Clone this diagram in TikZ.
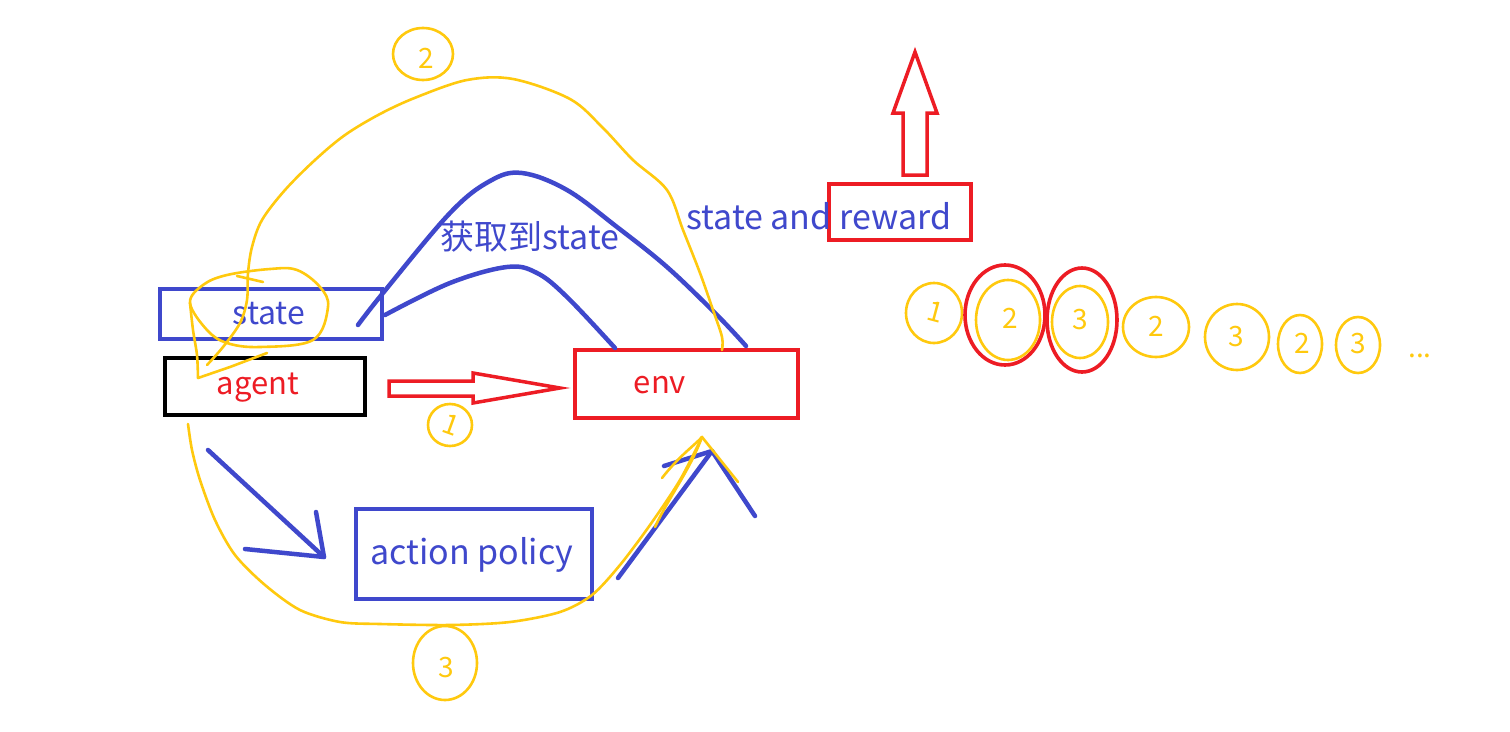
\documentclass[tikz,border=0pt]{standalone}
\usepackage{fontspec}
\setmainfont{Noto Sans CJK SC}
\definecolor{pblue}{HTML}{3F48CC}
\definecolor{pred}{HTML}{ED1C24}
\definecolor{pyel}{HTML}{FFC90E}
\tikzset{
  bluebox/.style={draw=pblue, line width=4pt, inner sep=0pt},
  redbox/.style={draw=pred, line width=3.5pt, inner sep=0pt},
  blackbox/.style={draw=black, line width=4pt, inner sep=0pt},
  btext/.style={text=pblue, font=\fontsize{32}{36}\selectfont, inner sep=0pt},
  bigbtext/.style={text=pblue, font=\fontsize{34}{38}\selectfont, inner sep=0pt},
  rtext/.style={text=pred, font=\fontsize{31}{36}\selectfont, inner sep=0pt},
  bluepen/.style={draw=pblue, line width=4.5pt, line cap=round, line join=round},
  redpen/.style={draw=pred, line width=3.5pt, line join=miter},
  yelpen/.style={draw=pyel, line width=2.6pt, line cap=round, line join=round},
  ring/.style={draw=pyel, line width=2.6pt},
  redring/.style={draw=pred, line width=3.6pt},
  digit/.style={text=pyel, font=\fontsize{28}{32}\selectfont, inner sep=0pt},
}
\begin{document}
\begin{tikzpicture}[x=1pt,y=-1pt]
\useasboundingbox[fill=white] (0,0) rectangle (1510,731);

% boxes
\node[bluebox, minimum width=222pt, minimum height=50pt] (statebox) at (271,314) {};
\node[btext] (statetxt) at (269,314) {state};
\node[blackbox, minimum width=200pt, minimum height=57pt] (agentbox) at (265,386.5) {};
\node[rtext] (agenttxt) at (258,388) {agent};
\node[redbox, minimum width=223pt, minimum height=68pt] (envbox) at (686.5,384) {};
\node[rtext] (envtxt) at (660,385) {env};
\node[bluebox, minimum width=236pt, minimum height=90pt] (polbox) at (474,554) {};
\node[bigbtext] (poltxt) at (472,555) {action policy};
\node[redbox, minimum width=142pt, minimum height=56pt] (rewbox) at (900,212) {};
\node[bigbtext, anchor=west] (srtxt) at (686,216) {state and reward};
\node[bigbtext] (gettxt) at (530,237) {获取到state};

% red hollow arrows
\draw[redpen] (389,381) -- (473,381) -- (473,373) -- (560,388) -- (473,403) -- (473,396) -- (389,396) -- cycle;
\draw[redpen] (903,175) -- (903,113) -- (893,113) -- (915,52) -- (937,113) -- (927,113) -- (927,175) -- cycle;

% blue curves
\coordinate (o1) at (358,325);
\coordinate (o2) at (746,346);
\coordinate (i1) at (385,315);
\coordinate (i2) at (615,348);
\draw[bluepen] plot[smooth, tension=0.6] coordinates {(o1) (383,293) (450,213) (490,181) (522,173) (567,190) (617,227) (667,267) (717,315) (o2)};
\draw[bluepen] plot[smooth, tension=0.6] coordinates {(i1) (450,283) (507,267) (537,273) (567,297) (i2)};

% blue arrows
\coordinate (a1s) at (208,450);
\coordinate (a1t) at (324,557);
\draw[bluepen] (a1s) -- (a1t);
\draw[bluepen] (316,512) -- (a1t) -- (245,549);
\coordinate (a2s) at (618,578);
\coordinate (a2t) at (712,451);
\draw[bluepen] (a2s) -- (a2t);
\draw[bluepen] (664,466) -- (a2t) -- (755,516);

% yellow big loop (2)
\draw[yelpen] plot[smooth, tension=0.55] coordinates {(722,350) (722,337) (713,310) (700,273) (683,230) (667,190) (633,160) (603,128) (570,99) (513,79) (467,80) (417,97) (380,114) (345,135) (315,160) (285,190) (262,220) (252,247) (248,273) (247,300) (240,323) (223,347) (207,365)};
\draw[yelpen] plot[smooth cycle, tension=0.6] coordinates {(190,303) (207,330) (227,343) (260,347) (313,340) (328,307) (320,287) (297,270) (270,269) (227,275) (203,285)};
\draw[yelpen] plot[smooth, tension=0.5] coordinates {(190,303) (193,330) (197,355) (198,378)};
\draw[yelpen] (198,378) -- (230,367) -- (267,353);
\draw[yelpen] (237,276) -- (263,282);

% yellow bottom loop (3)
\coordinate (y3t) at (702,437);
\draw[yelpen] plot[smooth, tension=0.5] coordinates {(188,424) (192,450) (200,480) (215,520) (235,555) (265,585) (300,610) (340,622) (380,624) (450,625) (510,622) (560,612) (592,595) (620,565) (650,525) (680,480) (y3t)};
\draw[yelpen] (662,478) .. controls (680,455) and (695,445) .. (y3t) -- (738,482);
\draw[yelpen] (655,527) .. controls (670,495) and (690,470) .. (y3t);

% circled digits
\draw[ring] (450,425) ellipse [x radius=22, y radius=21];
\node[digit, rotate=-20] (d1) at (451,425) {1};
\draw[ring] (423,54) ellipse [x radius=30, y radius=26];
\node[digit] (d2) at (426,58) {2};
\draw[ring] (445,663) ellipse [x radius=32, y radius=37];
\node[digit] (d3) at (446,668) {3};

\draw[ring] (934,313) ellipse [x radius=28, y radius=30];
\node[digit, rotate=-15] (r1) at (936,312) {1};
\draw[redring] (1005,315) ellipse [x radius=40, y radius=50];
\draw[ring] (1008,320) ellipse [x radius=32, y radius=40];
\node[digit] (r2) at (1010,318) {2};
\draw[redring] (1082,320) ellipse [x radius=35, y radius=52];
\draw[ring] (1080,322) ellipse [x radius=28, y radius=36];
\node[digit] (r3) at (1080,320) {3};
\draw[ring] (1156,327) ellipse [x radius=33, y radius=30];
\node[digit] (r4) at (1156,326) {2};
\draw[ring] (1237,337) ellipse [x radius=32, y radius=33];
\node[digit] (r5) at (1236,337) {3};
\draw[ring] (1300,344) ellipse [x radius=22, y radius=29];
\node[digit] (r6) at (1302,343) {2};
\draw[ring] (1358,345) ellipse [x radius=22, y radius=28];
\node[digit] (r7) at (1358,344) {3};
\node[digit] (dots) at (1420,356) {...};
\end{tikzpicture}
\end{document}
